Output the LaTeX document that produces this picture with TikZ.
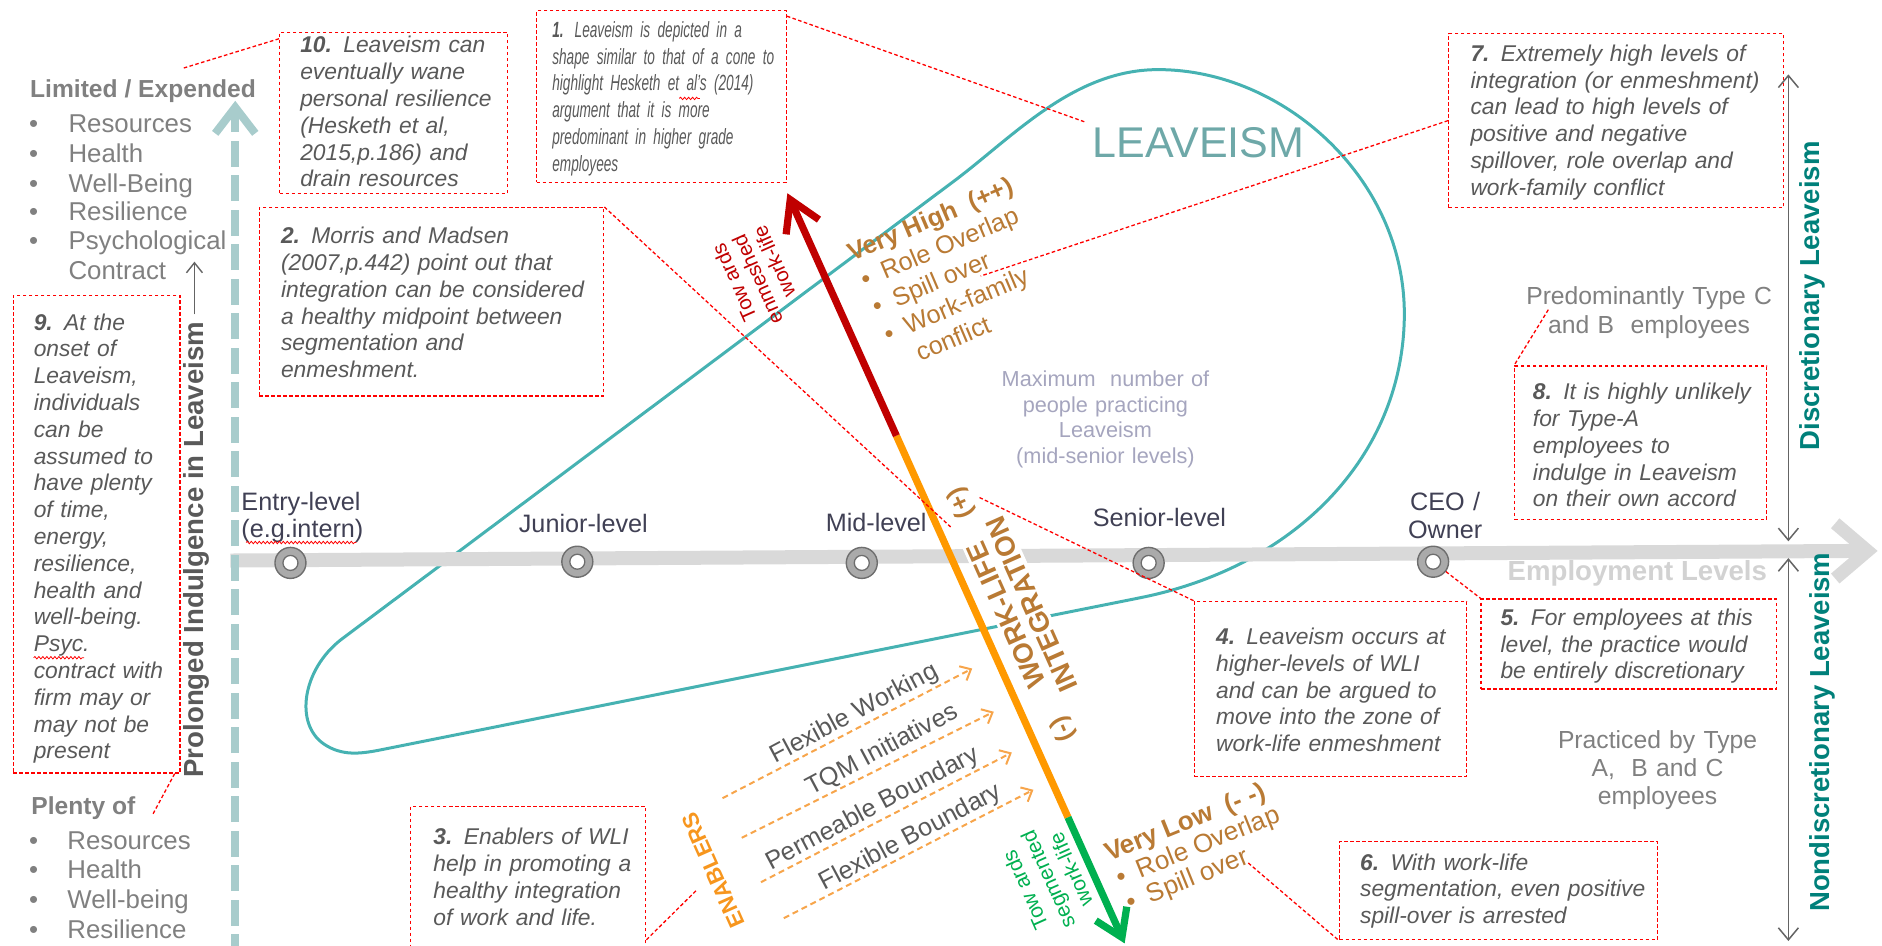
\documentclass[tikz,border=0pt]{standalone}
\usepackage{fontspec}
\setmainfont{Liberation Sans}
\newfontfamily\narrowfam{Liberation Sans}[FakeStretch=0.62]
\usetikzlibrary{arrows.meta,fit,decorations.pathmorphing}
\definecolor{calred}{RGB}{255,0,0}
\definecolor{txtgray}{RGB}{89,89,89}
\definecolor{lgray}{RGB}{128,128,128}
\definecolor{lvlcol}{RGB}{64,64,84}
\definecolor{axgray}{RGB}{217,217,217}
\definecolor{ringfill}{RGB}{170,170,170}
\definecolor{ringdark}{RGB}{110,110,110}
\definecolor{conet}{RGB}{70,178,178}
\definecolor{leavecol}{RGB}{110,168,168}
\definecolor{tealarrow}{RGB}{168,204,204}
\definecolor{discol}{RGB}{0,128,122}
\definecolor{browntx}{RGB}{185,122,52}
\definecolor{maxcol}{RGB}{165,165,190}
\definecolor{arrred}{RGB}{192,0,0}
\definecolor{arrorange}{RGB}{255,153,0}
\definecolor{arrgreen}{RGB}{0,176,80}
\definecolor{enorange}{RGB}{247,165,75}
\definecolor{enabcol}{RGB}{247,150,30}
\definecolor{empcol}{RGB}{210,210,210}
\definecolor{vgray}{RGB}{100,100,100}
\newcommand\fsz[2]{\fontsize{#1pt}{#2pt}\selectfont}
\begin{document}
\begin{tikzpicture}[x=1.2pt,y=-1.2pt,
  cbox/.style={draw=calred, dash pattern=on 3.6pt off 2.4pt, line width=1.3pt, inner sep=0pt},
  cline/.style={draw=calred, dash pattern=on 3.6pt off 2.4pt, line width=1.3pt},
  ctext/.style={anchor=base west, inner sep=0pt, align=left, text width=#1, text=txtgray, font={\fsz{22.8}{26.8}\itshape}},
  lvl/.style={circle, minimum size=31pt, inner sep=0pt, fill=ringfill, draw=ringdark, line width=1.4pt,
    path picture={\draw[ringdark, line width=1.3pt, fill=white] (path picture bounding box.center) circle (7.5pt);}},
  lvltext/.style={inner sep=0pt, text=lvlcol, font={\fsz{25.2}{27}}},
  ltext/.style={inner sep=0pt, text=lgray, font={\fsz{25.8}{29}}},
  vh/.style={inner sep=0pt, text=browntx, font={\fsz{25.2}{28}}},
  entext/.style={inner sep=0pt, text=txtgray, font={\fsz{25.2}{28}}},
  enarrow/.style={enorange, line width=2pt, dash pattern=on 6pt off 4pt, -{Straight Barb[length=9pt,width=16pt]}},
  vdbl/.style={vgray, line width=1.5pt, {Straight Barb[length=12pt,width=20pt]}-{Straight Barb[length=12pt,width=20pt]}},
  spell/.style={calred, line width=0.8pt, decorate, decoration={snake, amplitude=1.2pt, segment length=4pt}}
]
\useasboundingbox (0,0) rectangle (1568,788);

% ---------- cone ----------
\draw[conet, line width=3pt] (316,625) -- (950,498)
  .. controls (1080,472) and (1168,380) .. (1170,265)
  .. controls (1172,150) and (1070,58) .. (965,58)
  .. controls (895,58) and (845,113) .. (796,150)
  -- (284,533)
  .. controls (252,558) and (245,603) .. (270,620)
  .. controls (285,630) and (300,628) .. (316,625);

% ---------- employment axis ----------
\draw[axgray, line width=14pt] (192,467) -- (1550,459);
\draw[axgray, line width=13pt, line join=miter] (1529,436) -- (1556,459) -- (1529,482);
\node[anchor=base west, inner sep=0pt, text=empcol, font={\bfseries\fsz{27.6}{30}}] (emp) at (1256,484) {Employment Levels};

\node[lvl] (n1) at (242,469) {};
\node[lvl] (n2) at (481,468) {};
\node[lvl] (n3) at (718,469) {};
\node[lvl] (n4) at (957,469) {};
\node[lvl] (n5) at (1194,468) {};

\node[lvltext, anchor=base west, text width=140pt, align=left] (l1) at (201,425) {Entry-level\\(e.g.intern)};
\node[lvltext, anchor=base] (l2) at (486,444) {Junior-level};
\node[lvltext, anchor=base] (l3) at (730,443) {Mid-level};
\node[lvltext, anchor=base] (l4) at (966,439) {Senior-level};
\node[lvltext, anchor=base, text width=100pt, align=center, font={\fsz{25.2}{28.8}}] (l5) at (1204,425) {CEO /\\Owner};
\draw[spell] (205,452) -- (297,452);

% ---------- left side ----------
\node[anchor=base west, inner sep=0pt, text=lgray, font={\bfseries\fsz{24.6}{28}}] (lim) at (25,81) {Limited / Expended};
\foreach \t/\y [count=\i] in {Resources/110, Health/135, Well-Being/160, Resilience/184, Psychological/208} {
  \node[ltext, anchor=base west] (lu\i) at (57,\y) {\t};
  \node[ltext, anchor=base] (lub\i) at (28,\y) {\textbullet};
}
\node[ltext, anchor=base west] (lu6) at (57,233) {Contract};

\node[anchor=base west, inner sep=0pt, text=lgray, font={\bfseries\fsz{24.6}{28}}] (plen) at (26,679) {Plenty of};
\foreach \t/\y [count=\i] in {Resources/708, Health/732, Well-being/757, Resilience/782} {
  \node[ltext, anchor=base west] (pu\i) at (56,\y) {\t};
  \node[ltext, anchor=base] (pub\i) at (28,\y) {\textbullet};
}

\node[rotate=90, inner sep=0pt, text=txtgray, font={\bfseries\fsz{27.6}{30}}] (prol) at (164,458) {Prolonged Indulgence in Leaveism};
\coordinate (sa1) at (162,262);
\coordinate (sa2) at (162,218);
\draw[vgray, line width=1.4pt, -{Straight Barb[length=10pt,width=16pt]}] (sa1) -- (sa2);

\coordinate (tb) at (196,800);
\coordinate (tt) at (196,84);
\draw[tealarrow, line width=8pt, dash pattern=on 26pt off 8.5pt, -{Straight Barb[length=26pt,width=40pt]}] (tb) -- (tt);

% ---------- right side ----------
\coordinate (r1) at (1490,62);
\coordinate (r2) at (1490,451);
\coordinate (r3) at (1490,465);
\coordinate (r4) at (1490,784);
\draw[vdbl] (r1) -- (r2);
\draw[vdbl] (r3) -- (r4);
\node[rotate=90, inner sep=0pt, text=discol, font={\bfseries\fsz{27.5}{30}}] (disc) at (1510,246.5) {Discretionary Leaveism};
\node[rotate=90, inner sep=0pt, text=discol, font={\bfseries\fsz{27.5}{30}}] (ndisc) at (1518,610) {Nondiscretionary Leaveism};

\node[anchor=base, text width=260pt, align=center, inner sep=0pt, text=lgray, font={\fsz{24.7}{28.8}}] (pred) at (1374,254) {Predominantly Type C\\and B\ \ employees};
\node[anchor=base, text width=260pt, align=center, inner sep=0pt, text=lgray, font={\fsz{24.7}{27.6}}] (prac) at (1381,624) {Practiced by Type\\A,\ \ B and C\\employees};

% ---------- centre texts ----------
\node[anchor=base west, inner sep=0pt, text=leavecol, font={\fsz{43}{48}}] (leave) at (910,131) {LEAVEISM};
\node[anchor=base, text width=240pt, align=center, inner sep=0pt, text=maxcol, font={\fsz{21.7}{25.6}}] (maxp) at (921,322) {Maximum\ \ number of\\people practicing\\Leaveism\\(mid-senior levels)};

\node[vh, anchor=base west, rotate=23] (vh0) at (710,218) {\bfseries Very High\ \ (++)};
\node[vh, anchor=base west, rotate=23] (vh1) at (720.6,240.4) {\textbullet\hspace{13pt}Role Overlap};
\node[vh, anchor=base west, rotate=23] (vh2) at (730.3,263.2) {\textbullet\hspace{13pt}Spill over};
\node[vh, anchor=base west, rotate=23] (vh3) at (740.0,286.0) {\textbullet\hspace{13pt}Work-family};
\node[vh, anchor=base west, rotate=23] (vh4) at (766.7,301.6) {conflict};

\node[vh, anchor=base west, rotate=22, font={\fsz{26}{28}}] (vl0) at (924,718) {\bfseries Very Low\ \ (-\ -)};
\node[vh, anchor=base west, rotate=22, font={\fsz{26}{28}}] (vl1) at (933.3,738.5) {\textbullet\hspace{13pt}Role Overlap};
\node[vh, anchor=base west, rotate=22, font={\fsz{26}{28}}] (vl2) at (941.7,759.4) {\textbullet\hspace{13pt}Spill over};

\node[rotate=114, align=right, inner sep=0pt, text=arrred, font={\fsz{20.5}{22.5}}] (tw) at (631,233) {Tow ards\\enmeshed\\work-life};
\node[rotate=114, align=center, inner sep=0pt, text=arrgreen, font={\fsz{21}{25}}] (tg) at (873,733) {Tow ards\\segmented\\work-life};

\node[rotate=114, align=center, inner sep=3pt, fill=white, text=browntx, font={\bfseries\fsz{27.6}{27.6}}] (wli) at (849,508) {WORK-LIFE\\INTEGRATION};
\node[rotate=114, inner sep=0pt, text=browntx, font={\bfseries\fsz{25}{27}}] (plus) at (801,419) {(+)};
\node[rotate=114, inner sep=0pt, text=browntx, font={\bfseries\fsz{25}{27}}] (minus) at (886,607) {(-)};

\node[rotate=114, inner sep=0pt, text=enabcol, font={\bfseries\fsz{22.4}{25}}] (enab) at (594,725) {ENABLERS};
\node[entext, rotate=28] (en1) at (712,595) {Flexible Working};
\node[entext, rotate=28] (en2) at (735,625) {TQM Initiatives};
\node[entext, rotate=28] (en3) at (727,674) {Permeable Boundary};
\node[entext, rotate=28] (en4) at (759,698) {Flexible Boundary};
\coordinate (a1s) at (602,665); \coordinate (a1e) at (810,557);
\coordinate (a2s) at (618,698); \coordinate (a2e) at (828,593);
\coordinate (a3s) at (634,735); \coordinate (a3e) at (843,627);
\coordinate (a4s) at (653,765); \coordinate (a4e) at (861,658);
\draw[enarrow] (a1s) -- (a1e);
\draw[enarrow] (a2s) -- (a2e);
\draw[enarrow] (a3s) -- (a3e);
\draw[enarrow] (a4s) -- (a4e);

% ---------- main WLI arrow ----------
\coordinate (mT) at (656,161);
\coordinate (mJ1) at (746.8,363);
\coordinate (mJ2) at (889.8,681);
\coordinate (mB) at (937,786);
\draw[arrorange, line width=7.2pt] (mJ1) -- (mJ2);
\draw[arrred, line width=7.2pt, -{Straight Barb[length=30pt,width=36pt]}] (mJ1) -- (mT);
\draw[arrgreen, line width=7.2pt, -{Straight Barb[length=26pt,width=34pt]}] (mJ2) -- (mB);

% ---------- callout boxes ----------
\node[cbox, fit={(233,27) (423,161)}] (b10) {};
\node[ctext=220pt] (t10) at (250,44) {{\bfseries 10.} Leaveism can\\eventually wane\\personal resilience\\(Hesketh et al,\\2015,p.186) and\\drain resources};

\node[cbox, fit={(447,9) (655,152)}] (b1) {};
\node[ctext=250pt, font={\narrowfam\fsz{22}{26.8}\itshape}] (t1) at (460,31) {{\bfseries 1.} Leaveism is depicted in a\\shape similar to that of a cone to\\highlight Hesketh et al’s (2014)\\argument that it is more\\predominant in higher grade\\employees};
\draw[spell] (566,82) -- (583,82);

\node[cbox, fit={(216,173) (503,330)}] (b2) {};
\node[ctext=340pt] (t2) at (234,203) {{\bfseries 2.} Morris and Madsen\\(2007,p.442) point out that\\integration can be considered\\a healthy midpoint between\\segmentation and\\enmeshment.};

\node[cbox, fit={(11,246) (150,644)}] (b9) {};
\node[ctext=160pt] (t9) at (28,275) {{\bfseries 9.} At the\\onset of\\Leaveism,\\individuals\\can be\\assumed to\\have plenty\\of time,\\energy,\\resilience,\\health and\\well-being.\\Psyc.\\contract with\\firm may or\\may not be\\present};
\draw[spell] (28,548) -- (70,548);

\node[cbox, fit={(342,672) (538,800)}] (b3) {};
\node[ctext=230pt] (t3) at (361,704) {{\bfseries 3.} Enablers of WLI\\help in promoting a\\healthy integration\\of work and life.};

\node[cbox, fit={(1207,28) (1486,173)}] (b7) {};
\node[ctext=330pt] (t7) at (1225,51) {{\bfseries 7.} Extremely high levels of\\integration (or enmeshment)\\can lead to high levels of\\positive and negative\\spillover, role overlap and\\work-family conflict};

\node[cbox, fit={(1262,305) (1472,433)}] (b8) {};
\node[ctext=240pt] (t8) at (1277,333) {{\bfseries 8.} It is highly unlikely\\for Type-A\\employees to\\indulge in Leaveism\\on their own accord};

\node[cbox, fit={(995,501) (1222,647)}] (b4) {};
\node[ctext=260pt] (t4) at (1013,537) {{\bfseries 4.} Leaveism occurs at\\higher-levels of WLI\\and can be argued to\\move into the zone of\\work-life enmeshment};

\node[cbox, fit={(1234,499) (1480,574)}] (b5) {};
\node[ctext=290pt] (t5) at (1250,521) {{\bfseries 5.} For employees at this\\level, the practice would\\be entirely discretionary};

\node[cbox, fit={(1116,701) (1381,783)}] (b6) {};
\node[ctext=310pt] (t6) at (1133,725) {{\bfseries 6.} With work-life\\segmentation, even positive\\spill-over is arrested};

% ---------- callout connectors ----------
\coordinate (k10) at (152,57);
\coordinate (k1) at (905,102);
\coordinate (k2) at (792,439);
\coordinate (k7) at (817,230);
\coordinate (k4) at (815,414);
\coordinate (k6) at (1040,719);
\coordinate (k8) at (1290,258);
\coordinate (k9) at (127,679);
\coordinate (k3) at (580,742);
\draw[cline] ([yshift=-7pt]b10.north west) -- (k10);
\draw[cline] ([yshift=-6pt]b1.north east) -- (k1);
\draw[cline] (b2.north east) -- (k2);
\draw[cline] (b7.west) -- (k7);
\draw[cline] (b4.north west) -- (k4);
\draw[cline] (n5) -- (b5.north west);
\draw[cline] (k6) -- (b6.south west);
\draw[cline] (k8) -- (b8.north west);
\draw[cline] ([xshift=-6pt]b9.south east) -- (k9);
\draw[cline] (b3.east |- 0,783) -- (k3);
\end{tikzpicture}
\end{document}
